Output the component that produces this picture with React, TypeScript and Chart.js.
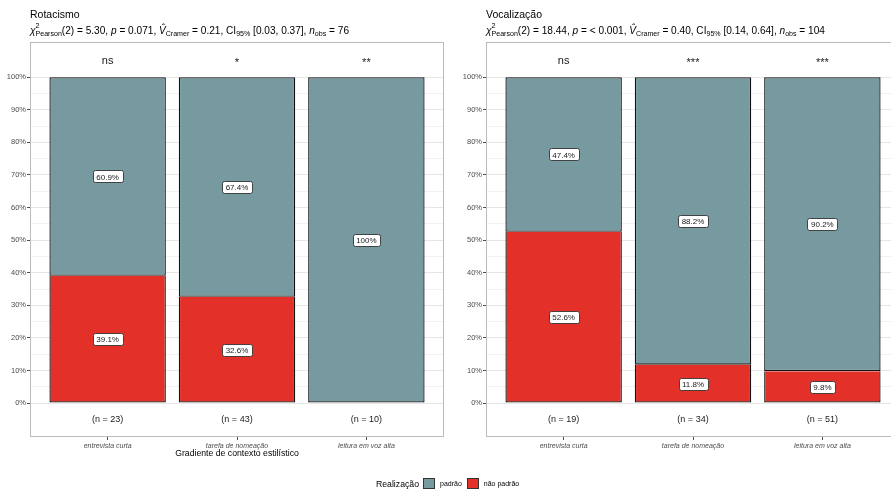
import React, { useEffect, useRef } from "react";
import { Chart, registerables } from "chart.js";

Chart.register(...registerables);

// Context categories shared by both panels
const categories = ["entrevista curta", "tarefa de nomeação", "leitura em voz alta"];

// Rotacismo: percentages per context
const rotPadrao = [60.9, 67.4, 100];
const rotNaoPadrao = [39.1, 32.6, 0];
const rotN = [23, 43, 10];
const rotSig = ["ns", "*", "**"];

// Vocalização: percentages per context
const vocPadrao = [47.4, 88.2, 90.2];
const vocNaoPadrao = [52.6, 11.8, 9.8];
const vocN = [19, 34, 51];
const vocSig = ["ns", "***", "***"];

// Y axis ticks (major every 10%, minor halfway between)
const yMajorTicks = [0, 10, 20, 30, 40, 50, 60, 70, 80, 90, 100];
const yMinorTicks = [5, 15, 25, 35, 45, 55, 65, 75, 85, 95];

const seriesNames = ["não padrão", "padrão"];
const COLOR_PADRAO = "#769aa0";
const COLOR_NAO = "#e3312a";
const FONT = '"Liberation Sans", Arial, sans-serif';

const fmtPct = (v: number) => (v === 100 ? "100%" : v.toFixed(1) + "%");

const panelPlugin = {
  id: "panelDecor",
  afterDatasetsDraw(chart: any, _args: any, opts: any) {
    const { ctx, scales } = chart;
    const x = scales.x;
    const y = scales.y;
    ctx.save();
    // value labels inside each segment
    chart.data.datasets.forEach((ds: any, di: number) => {
      const meta = chart.getDatasetMeta(di);
      meta.data.forEach((bar: any, i: number) => {
        const v = ds.data[i].y;
        if (!v) return;
        const p = bar.getProps(["x", "y", "base"], true);
        const cy = (p.y + p.base) / 2;
        const txt = fmtPct(v);
        ctx.font = `8px ${FONT}`;
        const tw = ctx.measureText(txt).width;
        const w = Math.round(tw + 7);
        const h = 12;
        const bx = Math.round(p.x - w / 2) + 0.5;
        const by = Math.round(cy - h / 2) + 0.5;
        ctx.beginPath();
        ctx.roundRect(bx, by, w, h, 2);
        ctx.fillStyle = "#ffffff";
        ctx.fill();
        ctx.lineWidth = 0.9;
        ctx.strokeStyle = "#333333";
        ctx.stroke();
        ctx.fillStyle = "#1a1a1a";
        ctx.textAlign = "center";
        ctx.textBaseline = "middle";
        ctx.fillText(txt, p.x, cy + 1);
      });
    });
    // significance markers above bars
    ctx.fillStyle = "#1a1a1a";
    ctx.textAlign = "center";
    ctx.textBaseline = "middle";
    opts.sig.forEach((s: string, i: number) => {
      ctx.font = `11px ${FONT}`;
      const yy = y.getPixelForValue(105) + (s === "ns" ? 0 : 2);
      ctx.fillText(s, x.getPixelForValue(i), yy);
    });
    // sample sizes below bars
    opts.n.forEach((n: number, i: number) => {
      ctx.font = `9px ${FONT}`;
      ctx.fillText(`(n = ${n})`, x.getPixelForValue(i), y.getPixelForValue(-5));
    });
    ctx.restore();
  },
  afterDraw(chart: any) {
    const { ctx, chartArea } = chart;
    ctx.save();
    ctx.strokeStyle = "#bcbcbc";
    ctx.lineWidth = 1;
    ctx.strokeRect(
      Math.round(chartArea.left) + 0.5,
      Math.round(chartArea.top) + 0.5,
      Math.round(chartArea.right - chartArea.left) - 1,
      Math.round(chartArea.bottom - chartArea.top) - 1
    );
    ctx.restore();
  },
};

function buildConfig(
  padrao: number[],
  naoPadrao: number[],
  n: number[],
  sig: string[],
  yWidth: number,
  rightPad: number,
  showXTitle: boolean
): any {
  const toPoints = (arr: number[]) => arr.map((v, i) => ({ x: i, y: v }));
  const barStyle = {
    borderColor: "#111111",
    borderWidth: 1.3,
    barPercentage: 0.9,
    categoryPercentage: 1,
  };
  return {
    type: "bar",
    data: {
      datasets: [
        // lower segment: its top edge is outlined by the segment stacked above
        {
          label: seriesNames[0],
          data: toPoints(naoPadrao),
          backgroundColor: COLOR_NAO,
          borderSkipped: "end",
          ...barStyle,
        },
        {
          label: seriesNames[1],
          data: toPoints(padrao),
          backgroundColor: COLOR_PADRAO,
          borderSkipped: false,
          ...barStyle,
        },
      ],
    },
    options: {
      animation: false,
      responsive: false,
      devicePixelRatio: 1,
      layout: { padding: { top: 42, right: rightPad, bottom: 0, left: 0 } },
      plugins: {
        legend: { display: false },
        tooltip: { enabled: false },
        panelDecor: { sig, n },
      },
      scales: {
        x: {
          type: "linear",
          stacked: true,
          offset: false,
          min: -0.6,
          max: 2.6,
          afterBuildTicks: (s: any) => {
            s.ticks = categories.map((_, i) => ({ value: i }));
          },
          afterFit: (s: any) => {
            s.height = 33;
          },
          ticks: {
            callback: (v: number) => categories[v] ?? "",
            font: { family: FONT, size: 7, style: "italic" },
            color: "#4d4d4d",
            padding: 2,
            maxRotation: 0,
            autoSkip: false,
          },
          grid: {
            offset: false,
            drawOnChartArea: false,
            drawTicks: true,
            tickLength: 3,
            tickColor: "#4d4d4d",
          },
          border: { display: false },
          title: {
            display: showXTitle,
            text: "Gradiente de contexto estilístico",
            color: "#000000",
            font: { family: FONT, size: 8.7 },
            padding: { top: 0, bottom: 11 },
          },
        },
        y: {
          type: "linear",
          stacked: true,
          min: -10.4,
          max: 110.8,
          afterBuildTicks: (s: any) => {
            s.ticks = [...yMajorTicks, ...yMinorTicks]
              .sort((a, b) => a - b)
              .map((v) => ({ value: v }));
          },
          afterFit: (s: any) => {
            s.width = yWidth;
          },
          ticks: {
            callback: (v: number) => (yMajorTicks.includes(v) ? v + "%" : ""),
            font: { family: FONT, size: 7.5 },
            color: "#4d4d4d",
            padding: 1,
            autoSkip: false,
          },
          grid: {
            color: (c: any) =>
              c.tick && yMajorTicks.includes(c.tick.value) ? "#e6e6e6" : "#f1f1f1",
            lineWidth: 1,
            tickLength: 3,
            tickColor: (c: any) =>
              c.tick && yMajorTicks.includes(c.tick.value) ? "#4d4d4d" : "rgba(0,0,0,0)",
          },
          border: { display: false },
        },
      },
    },
    plugins: [panelPlugin],
  };
}

function Panel(props: {
  left: number;
  width: number;
  padrao: number[];
  naoPadrao: number[];
  n: number[];
  sig: string[];
  yWidth: number;
  rightPad: number;
  showXTitle: boolean;
}) {
  const ref = useRef<HTMLCanvasElement>(null);
  useEffect(() => {
    if (!ref.current) return;
    const chart = new Chart(
      ref.current,
      buildConfig(
        props.padrao,
        props.naoPadrao,
        props.n,
        props.sig,
        props.yWidth,
        props.rightPad,
        props.showXTitle
      )
    );
    return () => chart.destroy();
  }, []);
  return (
    <canvas
      ref={ref}
      width={props.width}
      height={470}
      style={{ position: "absolute", left: props.left, top: 0, width: props.width, height: 470 }}
    />
  );
}

const subStyle: React.CSSProperties = { fontSize: "0.7em", verticalAlign: "-0.3em", lineHeight: 0 };

function Chi() {
  return (
    <>
      <i>χ</i>
      <span style={{ position: "relative", fontSize: "0.7em", verticalAlign: "-0.3em", lineHeight: 0 }}>
        Pearson
        <span style={{ position: "absolute", left: 0, top: "-0.6em" }}>2</span>
      </span>
    </>
  );
}

function Subtitle(props: { chi: string; p: string; v: string; ci: string; nObs: number }) {
  return (
    <span>
      <Chi />({"2"}) = {props.chi}, <i>p</i> = {props.p}, <i>V̂</i>
      <span style={subStyle}>Cramer</span> = {props.v}, CI<span style={subStyle}>95%</span> {props.ci},{" "}
      <i>n</i>
      <span style={subStyle}>obs</span> = {props.nObs}
    </span>
  );
}

export default function App() {
  const titleStyle: React.CSSProperties = {
    position: "absolute",
    top: 8,
    fontSize: 10.5,
    color: "#000",
    whiteSpace: "nowrap",
  };
  const subtitleStyle: React.CSSProperties = {
    position: "absolute",
    top: 25,
    fontSize: 10.1,
    color: "#000",
    whiteSpace: "nowrap",
    lineHeight: "12px",
  };
  const swatch = (color: string): React.CSSProperties => ({
    display: "inline-block",
    width: 12,
    height: 11,
    background: color,
    border: "1px solid #333",
    boxSizing: "border-box",
    verticalAlign: "middle",
  });
  return (
    <div
      style={{
        position: "fixed",
        left: 0,
        top: 0,
        width: 891,
        height: 489,
        overflow: "hidden",
        background: "#ffffff",
        fontFamily: FONT,
      }}
    >
      <Panel
        left={0}
        width={450}
        padrao={rotPadrao}
        naoPadrao={rotNaoPadrao}
        n={rotN}
        sig={rotSig}
        yWidth={30}
        rightPad={6}
        showXTitle={true}
      />
      <Panel
        left={445}
        width={460}
        padrao={vocPadrao}
        naoPadrao={vocNaoPadrao}
        n={vocN}
        sig={vocSig}
        yWidth={41}
        rightPad={5}
        showXTitle={false}
      />
      <div style={{ ...titleStyle, left: 30 }}>Rotacismo</div>
      <div style={{ ...subtitleStyle, left: 30 }}>
        <Subtitle chi="5.30" p="0.071" v="0.21" ci="[0.03, 0.37]" nObs={76} />
      </div>
      <div style={{ ...titleStyle, left: 486 }}>Vocalização</div>
      <div style={{ ...subtitleStyle, left: 486 }}>
        <Subtitle chi="18.44" p="< 0.001" v="0.40" ci="[0.14, 0.64]" nObs={104} />
      </div>
      <div
        style={{
          position: "absolute",
          left: 376,
          top: 477,
          height: 13,
          display: "flex",
          alignItems: "center",
          whiteSpace: "nowrap",
          color: "#000",
          transform: "translateZ(0)",
        }}
      >
        <span style={{ fontSize: 8.7, marginRight: 4 }}>Realização</span>
        <span style={swatch(COLOR_PADRAO)} />
        <span style={{ fontSize: 7, marginLeft: 5, marginRight: 5 }}>{seriesNames[1]}</span>
        <span style={swatch(COLOR_NAO)} />
        <span style={{ fontSize: 7, marginLeft: 5 }}>{seriesNames[0]}</span>
      </div>
    </div>
  );
}
